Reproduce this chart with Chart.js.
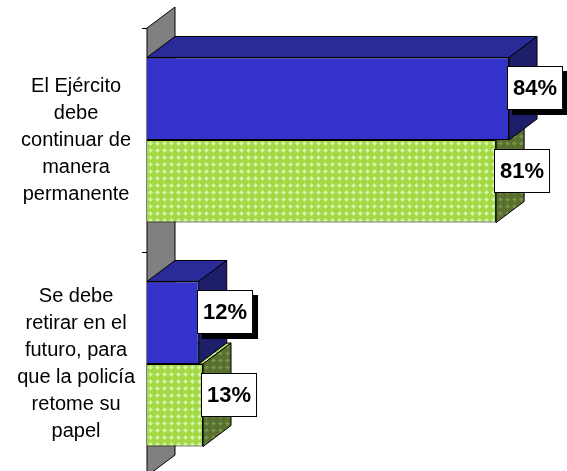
<!DOCTYPE html>
<html>
<head>
<meta charset="utf-8">
<script src="https://cdn.jsdelivr.net/npm/chart.js@4.4.0/dist/chart.umd.min.js"></script>
<style>
  html, body { margin: 0; padding: 0; background: #fff; overflow: hidden; width: 567px; height: 471px; }
  #wrap { position: absolute; left: 0; top: 0; width: 600px; height: 480px; }
</style>
</head>
<body>
<div id="wrap"><canvas id="chart"></canvas></div>
<script>
// datos
const categorias = [
  ['El Ejército', 'debe', 'continuar de', 'manera', 'permanente'],
  ['Se debe', 'retirar en el', 'futuro, para', 'que la policía', 'retome su', 'papel']
];
const serieAzul = [84, 12];
const serieVerde = [81, 13];
const escalaMax = 100;

// profundidad del efecto 3D
const DX = 28, DY = 21;
const FONT = 'Arial, "Liberation Sans", sans-serif';

// trama de cruces claras sobre verde
function trama(fondo, cruz, centro) {
  const c = document.createElement('canvas');
  c.width = 7; c.height = 7;
  const g = c.getContext('2d');
  g.fillStyle = fondo; g.fillRect(0, 0, 7, 7);
  g.fillStyle = cruz;
  g.fillRect(3, 1, 1, 5);
  g.fillRect(1, 3, 5, 1);
  g.fillRect(2, 2, 3, 3);
  g.fillStyle = centro;
  g.fillRect(3, 3, 1, 1);
  return g.createPattern(c, 'repeat');
}

const ctx = document.getElementById('chart').getContext('2d');
const verdeFrente = trama('#a6d744', '#c4f296', '#e0ffd2');
const verdeArriba = trama('#b4e25a', '#d0f7a8', '#ecffe0');
const verdeLado = trama('#586f2e', '#6e8a44', '#86a25a');

function cara(c, pts, fill) {
  c.beginPath();
  c.moveTo(pts[0][0], pts[0][1]);
  for (let i = 1; i < pts.length; i++) c.lineTo(pts[i][0], pts[i][1]);
  c.closePath();
  c.fillStyle = fill;
  c.fill();
  c.lineWidth = 1;
  c.strokeStyle = '#000';
  c.stroke();
}

const barras3d = {
  id: 'barras3d',
  beforeDatasetsDraw(chart) {
    const { left, top, bottom } = chart.chartArea;
    const c = chart.ctx;
    c.save();
    cara(c, [[left, top], [left + DX, top - DY], [left + DX, bottom - DY], [left, bottom]], '#808080');
    c.restore();
  },
  afterDatasetDraw(chart, args) {
    const ds = chart.data.datasets[args.index];
    const c = chart.ctx;
    c.save();
    args.meta.data.forEach(bar => {
      const p = bar.getProps(['x', 'y', 'base', 'height'], true);
      const t = p.y - p.height / 2, b = p.y + p.height / 2;
      cara(c, [[p.base, t], [p.base + DX, t - DY], [p.x + DX, t - DY], [p.x, t]], ds.colorArriba);
      cara(c, [[p.x, t], [p.x + DX, t - DY], [p.x + DX, b - DY], [p.x, b]], ds.colorLado);
    });
    c.restore();
  },
  afterDatasetsDraw(chart) {
    const c = chart.ctx;
    c.save();
    c.font = 'bold 22px ' + FONT;
    c.textAlign = 'center';
    c.textBaseline = 'middle';
    chart.data.datasets.forEach((ds, i) => {
      chart.getDatasetMeta(i).data.forEach((bar, j) => {
        const p = bar.getProps(['x', 'y'], true);
        const txt = ds.data[j] + '%';
        const w = c.measureText(txt).width + 12, h = 44;
        const x0 = Math.round(p.x - 2), y0 = Math.round(p.y - DY / 2 - h / 2);
        if (ds.sombra) {
          c.fillStyle = '#000';
          c.fillRect(x0 + 5, y0 + 5, w, h);
        }
        c.fillStyle = '#fff';
        c.fillRect(x0, y0, w, h);
        c.strokeStyle = '#000';
        c.lineWidth = 1;
        c.strokeRect(x0 + 0.5, y0 + 0.5, w - 1, h - 1);
        c.fillStyle = '#000';
        c.fillText(txt, x0 + w / 2, y0 + h / 2 + 1);
      });
    });
    c.restore();
  }
};

new Chart(ctx, {
  type: 'bar',
  data: {
    labels: categorias,
    datasets: [
      {
        data: serieAzul,
        backgroundColor: '#3333cc',
        colorArriba: '#2a2a99',
        colorLado: '#1e1e6b',
        sombra: true,
        borderColor: '#000',
        borderWidth: 1,
        categoryPercentage: 0.737,
        barPercentage: 1
      },
      {
        data: serieVerde,
        backgroundColor: verdeFrente,
        colorArriba: verdeArriba,
        colorLado: verdeLado,
        sombra: false,
        borderColor: '#000',
        borderWidth: 1,
        categoryPercentage: 0.737,
        barPercentage: 1
      }
    ]
  },
  options: {
    indexAxis: 'y',
    responsive: true,
    maintainAspectRatio: false,
    animation: false,
    layout: { padding: { top: 28, right: 22, bottom: 4, left: 0 } },
    plugins: {
      legend: { display: false },
      tooltip: { enabled: false }
    },
    scales: {
      x: { display: false, min: 0, max: escalaMax },
      y: {
        grid: { drawOnChartArea: false, offset: true, tickLength: 5, color: '#000', lineWidth: 1 },
        border: { display: false },
        ticks: {
          crossAlign: 'center',
          padding: 7,
          autoSkip: false,
          color: '#000',
          font: { family: FONT, size: 20, lineHeight: 1.35 }
        },
        afterFit(scale) {
          scale.width = 147;
          scale.paddingTop = 0;
          scale.paddingBottom = 0;
        }
      }
    }
  },
  plugins: [barras3d]
});
</script>
</body>
</html>
